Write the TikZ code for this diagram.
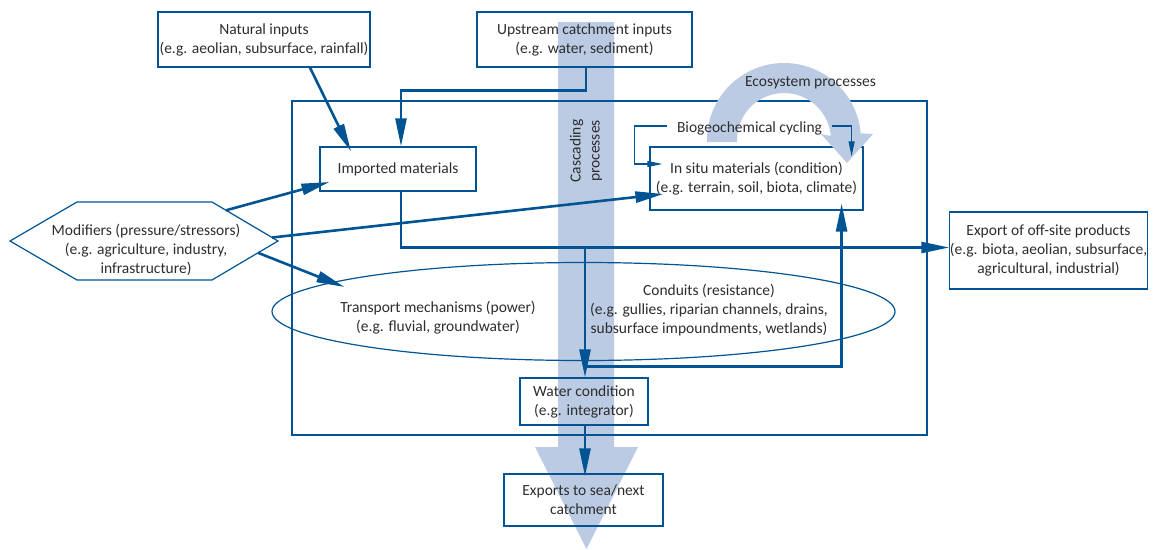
\documentclass[tikz,border=0pt]{standalone}
\usepackage{fontspec}
\setmainfont{Carlito}
\usetikzlibrary{arrows.meta,calc,shapes.geometric}
\definecolor{dblue}{RGB}{0,84,147}
\definecolor{lblue}{RGB}{187,203,228}
\definecolor{txt}{RGB}{45,45,45}
\pgfdeclarelayer{bg}
\pgfsetlayers{bg,main}

\begin{document}
\begin{tikzpicture}[x=1pt,y=-1pt,
  every node/.style={font=\fontsize{15.5}{19}\selectfont, text=txt, align=center},
  box/.style={draw=dblue, line width=1.2pt, inner sep=0pt},
  outline/.style={draw=dblue, line width=1.2pt},
  conn/.style={draw=dblue, line width=2.6pt, -{Triangle[length=28pt,width=11pt]}},
  bracket/.style={draw=dblue, line width=1.2pt, -{Triangle[length=15pt,width=6pt]}},
]
\useasboundingbox (0,0) rectangle (1156,549);

% cascading processes band with its arrowhead
\begin{pgfonlayer}{bg}
  \fill[lblue] (558,22) -- (614,22) -- (614,447) -- (638,447) -- (586.5,549)
    -- (535,447) -- (558,447) -- cycle;
\end{pgfonlayer}

% system boundary
\node[box, minimum width=635pt, minimum height=334pt] (sys) at (609.5,268) {};

% boxes
\node[box, minimum width=212pt, minimum height=55pt] (nat) at (264,39.5)
  {Natural inputs\\(e.g. aeolian, subsurface, rainfall)};
\node[box, minimum width=215pt, minimum height=55pt] (up) at (584.5,39.5)
  {Upstream catchment inputs\\(e.g. water, sediment)};
\node[box, minimum width=156pt, minimum height=44pt] (imp) at (398,169)
  {Imported materials};
\node[box, minimum width=213pt, minimum height=63pt] (ins) at (756.5,178.5)
  {In situ materials (condition)\\(e.g. terrain, soil, biota, climate)};
\node[box, minimum width=191pt, minimum height=77pt] (exp) at (1048.5,250.5)
  {Export of off-site products\\(e.g. biota, aeolian, subsurface,\\agricultural, industrial)};
\node[box, minimum width=128pt, minimum height=47pt] (wat) at (584,401.5)
  {Water condition\\(e.g. integrator)};
\node[box, minimum width=159pt, minimum height=52pt] (exs) at (583.5,500)
  {Exports to sea/next\\catchment};

% transport / conduits ellipse
\node[box, ellipse, minimum width=623pt, minimum height=98pt] (tm) at (583.5,311.5) {};
\node (tmtext) at (438,318) {Transport mechanisms (power)\\(e.g. fluvial, groundwater)};
\node (cond) at (709,310) {Conduits (resistance)\\(e.g. gullies, riparian channels, drains,\\subsurface impoundments, wetlands)};

% modifiers hexagon
\draw[outline] (10,241) -- (77,202) -- (212,202) -- (278,241) -- (212,280) -- (77,280) -- cycle;
\node (mod) at (146,249.5) {Modifiers (pressure/stressors)\\(e.g. agriculture, industry,\\infrastructure)};
\coordinate (m1) at (226,210.3);
\coordinate (m2) at (272,237.5);
\coordinate (m3) at (258,252.8);

% ecosystem processes curved arrow
\begin{scope}[shift={(784,140)}, y=1pt]
  \fill[lblue] (-77,-2) -- (-77pt,0pt) arc[start angle=180, end angle=5, radius=77pt]
    -- (89,6) -- (63,-23) -- (37,6) -- (46.82,4.1)
    arc[start angle=5, end angle=180, radius=47pt] -- (-47,-2) -- cycle;
\end{scope}
\node (eco) at (810.5,83) {Ecosystem processes};
\node (bio) at (749.5,128) {Biogeochemical cycling};
\node[rotate=90] (casc) at (586,151) {Cascading\\processes};

% connectors
\draw[conn] ($(nat.south)+(46,0)$) -- ($(imp.north)+(-47,5)$);
\draw[conn] ($(up.south)+(1.5,0)$) -- ++(0,23) -| ($(imp.north)+(3,0)$);
\draw[conn] (m1) -- ($(imp.west)+(10,13)$);
\draw[conn] (m2) -- ($(ins.west)+(14,15.5)$);
\draw[conn] (m3) -- ($(tm.west)+(73,-24.5)$);
\draw[conn] ($(imp.south)+(3,0)$) |- ($(exp.west)+(0,-3)$);
\coordinate (split) at ($(wat.north |- exp.west)+(1,-3)$);
\draw[conn] (split) -- ($(wat.north)+(1,0)$);
\coordinate (loopstart) at ($(wat.north)+(1,-11)$);
\draw[conn] (loopstart) -| ($(ins.south east)+(-22,-7)$);
\draw[conn] ($(wat.south)+(1,0)$) -- ($(exs.north)+(1.5,3)$);

% biogeochemical cycling bracket
\draw[bracket] ($(bio.west)+(-6,-2)$) -| ($(ins.west)+(-15,-14.5)$) -- ($(ins.west)+(13,-14.5)$);
\draw[bracket] ($(bio.east)+(6,-2)$) -| ($(ins.north east)+(-12,10)$);
\end{tikzpicture}
\end{document}
